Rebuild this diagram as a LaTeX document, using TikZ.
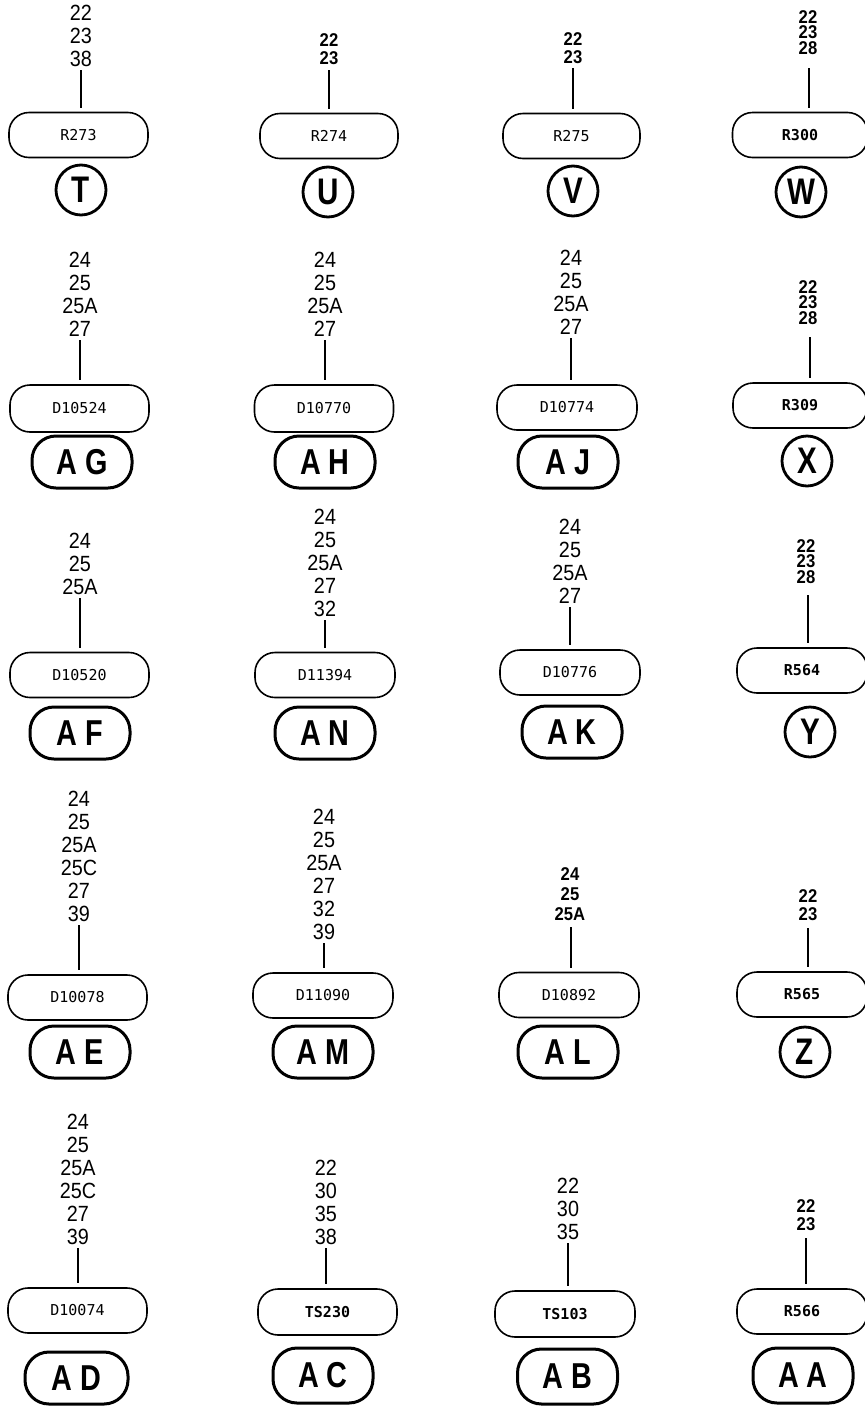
\documentclass[tikz,border=0pt]{standalone}
\usepackage{fontspec}
\newfontfamily\numfam[FakeStretch=0.9]{Liberation Sans}
\newfontfamily\boxfam{DejaVu Sans Mono}
\newfontfamily\letfam[FakeStretch=0.8]{Liberation Sans}
\newfontfamily\ovfam[FakeStretch=0.8]{Liberation Sans}
\tikzset{
  lbl/.style={draw, line width=1.6pt, rounded corners=20pt, minimum width=139pt, minimum height=45pt, inner sep=0pt, font=\boxfam\fontsize{15}{16}\selectfont},
  blbl/.style={lbl, font=\boxfam\bfseries\fontsize{15}{16}\selectfont},
  nums/.style={align=center, inner sep=0pt, anchor=south, font=\numfam\fontsize{22}{23}\selectfont},
  bnums/.style={align=center, inner sep=0pt, anchor=south, font=\numfam\bfseries\fontsize{18.5}{#1}\selectfont},
  conn/.style={line width=1.6pt, shorten >=4pt},
  ring/.style={draw, circle, line width=2.8pt, minimum size=50pt, inner sep=0pt, font=\letfam\bfseries\fontsize{37}{40}\selectfont},
  pill/.style={draw, rounded corners=24pt, line width=3pt, minimum width=100pt, minimum height=52pt, inner sep=0pt, font=\ovfam\bfseries\fontsize{36}{38}\selectfont},
}
\newcommand\lgap{\hspace{8pt}}
\begin{document}
\begin{tikzpicture}[x=1pt, y=-1pt]
\useasboundingbox (0,0) rectangle (865,1406);
\fill[white] (0,0) rectangle (865,1406);
% ---------- Row 1 ----------
\node[lbl] (Tb) at (78.5,135) {R273};
\node[nums] (Tn) at (81,67) {22\\23\\38};
\coordinate (Tt) at (81,70);
\draw[conn] (Tt) -- (Tt |- Tb.north);
\node[ring] (T) at (81,190) {T};

\node[lbl, minimum width=138pt] (Ub) at (329,136) {R274};
\node[bnums=18.5] (Un) at (329,65) {22\\23};
\coordinate (Ut) at (329,70);
\draw[conn] (Ut) -- (Ut |- Ub.north);
\node[ring] (U) at (328,192) {U};

\node[lbl, minimum width=137pt] (Vb) at (571.5,136) {R275};
\node[bnums=18.5] (Vn) at (573,64) {22\\23};
\coordinate (Vt) at (573,68);
\draw[conn] (Vt) -- (Vt |- Vb.north);
\node[ring] (V) at (573,191) {V};

\node[blbl, minimum width=135pt] (Wb) at (800,135) {R300};
\node[bnums=15.8] (Wn) at (808,55) {22\\23\\28};
\coordinate (Wt) at (809,68);
\draw[conn] (Wt) -- (Wt |- Wb.north);
\node[ring] (W) at (801,192) {W};
% ---------- Row 2 ----------
\node[lbl, minimum height=47pt] (AGb) at (79.5,408.5) {D10524};
\node[nums] (AGn) at (80,337) {24\\25\\25A\\27};
\coordinate (AGt) at (80,340);
\draw[conn] (AGt) -- (AGt |- AGb.north);
\node[pill] (AG) at (82,462) {A\lgap G};

\node[lbl, minimum height=47pt] (AHb) at (324,408.5) {D10770};
\node[nums] (AHn) at (325,337) {24\\25\\25A\\27};
\coordinate (AHt) at (325,340);
\draw[conn] (AHt) -- (AHt |- AHb.north);
\node[pill] (AH) at (325,462) {A\lgap H};

\node[lbl, minimum width=140pt] (AJb) at (567,407.5) {D10774};
\node[nums] (AJn) at (571,335) {24\\25\\25A\\27};
\coordinate (AJt) at (571,338);
\draw[conn] (AJt) -- (AJt |- AJb.north);
\node[pill] (AJ) at (568,462) {A\lgap J};

\node[blbl, minimum width=134pt] (Xb) at (800,405.5) {R309};
\node[bnums=15.8] (Xn) at (808,325) {22\\23\\28};
\coordinate (Xt) at (810,337);
\draw[conn] (Xt) -- (Xt |- Xb.north);
\node[ring] (X) at (807,461) {X};
% ---------- Row 3 ----------
\node[lbl] (AFb) at (79.5,675) {D10520};
\node[nums] (AFn) at (80,595) {24\\25\\25A};
\coordinate (AFt) at (80,598);
\draw[conn] (AFt) -- (AFt |- AFb.north);
\node[pill] (AF) at (80,733) {A\lgap F};

\node[lbl, minimum width=140pt] (ANb) at (325,675) {D11394};
\node[nums] (ANn) at (325,617) {24\\25\\25A\\27\\32};
\coordinate (ANt) at (325,620);
\draw[conn] (ANt) -- (ANt |- ANb.north);
\node[pill] (AN) at (325,733) {A\lgap N};

\node[lbl, minimum width=140pt] (AKb) at (570,672.5) {D10776};
\node[nums] (AKn) at (570,604) {24\\25\\25A\\27};
\coordinate (AKt) at (570,607);
\draw[conn] (AKt) -- (AKt |- AKb.north);
\node[pill] (AK) at (572,732) {A\lgap K};

\node[blbl, minimum width=130pt] (Yb) at (802,670.5) {R564};
\node[bnums=15.8] (Yn) at (806,584) {22\\23\\28};
\coordinate (Yt) at (808,595);
\draw[conn] (Yt) -- (Yt |- Yb.north);
\node[ring] (Y) at (810,732) {Y};
% ---------- Row 4 ----------
\node[lbl] (AEb) at (77.5,997.5) {D10078};
\node[nums] (AEn) at (79,922) {24\\25\\25A\\25C\\27\\39};
\coordinate (AEt) at (79,925);
\draw[conn] (AEt) -- (AEt |- AEb.north);
\node[pill] (AE) at (80,1052) {A\lgap E};

\node[lbl, minimum width=140pt] (AMb) at (323,995.5) {D11090};
\node[nums] (AMn) at (324,940) {24\\25\\25A\\27\\32\\39};
\coordinate (AMt) at (324,943);
\draw[conn] (AMt) -- (AMt |- AMb.north);
\node[pill] (AM) at (323,1052) {A\lgap M};

\node[lbl, minimum width=140pt] (ALb) at (569,995) {D10892};
\node[bnums=20] (ALn) at (570,921) {24\\25\\25A};
\coordinate (ALt) at (571,927);
\draw[conn] (ALt) -- (ALt |- ALb.north);
\node[pill] (AL) at (568,1052) {A\lgap L};

\node[blbl, minimum width=130pt] (Zb) at (802,994.5) {R565};
\node[bnums=18] (Zn) at (808,921) {22\\23};
\coordinate (Zt) at (808,928);
\draw[conn] (Zt) -- (Zt |- Zb.north);
\node[ring] (Z) at (805,1052) {Z};
% ---------- Row 5 ----------
\node[lbl] (ADb) at (77.5,1310.5) {D10074};
\node[nums] (ADn) at (78,1245) {24\\25\\25A\\25C\\27\\39};
\coordinate (ADt) at (78,1248);
\draw[conn] (ADt) -- (ADt |- ADb.north);
\node[pill, minimum width=103pt] (AD) at (76.5,1378) {A\lgap D};

\node[blbl, minimum width=139pt, minimum height=46pt] (ACb) at (327.5,1312) {TS230};
\node[nums] (ACn) at (326,1245) {22\\30\\35\\38};
\coordinate (ACt) at (326,1248);
\draw[conn] (ACt) -- (ACt |- ACb.north);
\node[pill, minimum height=55pt] (AC) at (323,1375.5) {A\lgap C};

\node[blbl, minimum width=140pt, minimum height=46pt] (ABb) at (565,1314) {TS103};
\node[nums] (ABn) at (568,1240) {22\\30\\35};
\coordinate (ABt) at (568,1243);
\draw[conn] (ABt) -- (ABt |- ABb.north);
\node[pill, minimum height=55pt] (AB) at (567.5,1376.5) {A\lgap B};

\node[blbl, minimum width=130pt] (AAb) at (802,1311.5) {R566};
\node[bnums=18] (AAn) at (806,1231) {22\\23};
\coordinate (AAt) at (806,1238);
\draw[conn] (AAt) -- (AAt |- AAb.north);
\node[pill, minimum height=55pt] (AA) at (803,1375.5) {A\lgap A};
\end{tikzpicture}
\end{document}
